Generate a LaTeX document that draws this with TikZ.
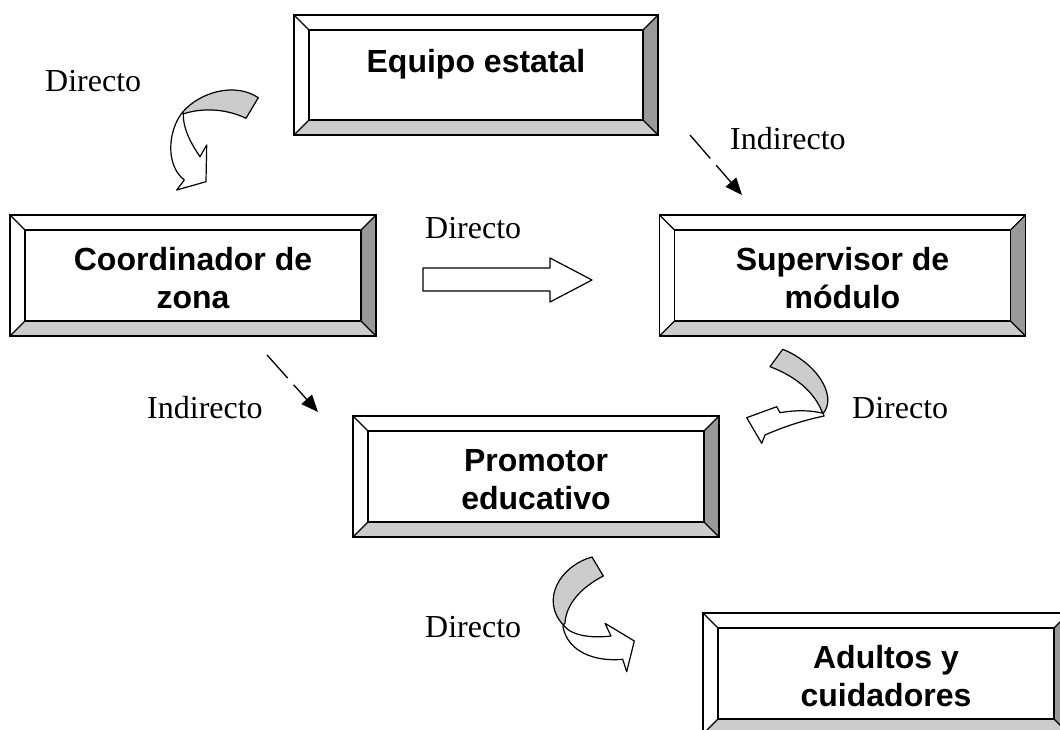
\documentclass[tikz,border=0pt]{standalone}
\usepackage{fontspec}
\setmainfont{Liberation Serif}
\newfontfamily\boxfont{Liberation Sans}
\usetikzlibrary{arrows.meta}
\definecolor{darkbevel}{gray}{0.6}
\definecolor{lightbevel}{gray}{0.8}
\tikzset{
  bevelbox/.style={draw, line width=1.5pt, fill=white, inner sep=0pt,
    minimum width=366pt, minimum height=121pt, align=center, text height=66pt, text depth=0pt,
    font=\boxfont\bfseries\fontsize{32}{38}\selectfont,
    path picture={
      \coordinate (bNE) at (path picture bounding box.north east);
      \coordinate (bNW) at (path picture bounding box.north west);
      \coordinate (bSE) at (path picture bounding box.south east);
      \coordinate (bSW) at (path picture bounding box.south west);
      \coordinate (iNE) at ([shift={(-15pt,-15pt)}]bNE);
      \coordinate (iNW) at ([shift={(15pt,-15pt)}]bNW);
      \coordinate (iSE) at ([shift={(-15pt,15pt)}]bSE);
      \coordinate (iSW) at ([shift={(15pt,15pt)}]bSW);
      \fill[darkbevel] (bNE) -- (bSE) -- (iSE) -- (iNE) -- cycle;
      \fill[lightbevel] (bSW) -- (bSE) -- (iSE) -- (iSW) -- cycle;
      \draw[line width=1.5pt] (iNE) -- (iNW) -- (iSW) -- (iSE) -- cycle;
      \draw[line width=1.2pt] (bNE) -- (iNE) (bNW) -- (iNW) (bSW) -- (iSW) (bSE) -- (iSE);
    }},
  ribbon/.style={draw=black, line width=1.2pt, line join=round},
  lbl/.style={anchor=base west, inner sep=0pt, font=\fontsize{32}{37}\selectfont},
  indirect/.style={line width=1.3pt, dash pattern=on 31pt off 9pt on 200pt,
    -{Triangle[length=17pt,width=14pt]}}
}
\begin{document}
\begin{tikzpicture}[x=1pt,y=-1pt]
\useasboundingbox (0,0) rectangle (1060,730);
\clip (0,0) rectangle (1060,730);

% boxes
\node[bevelbox, minimum width=364pt, minimum height=120pt, text height=23.4pt, text depth=29pt] (equipo) at (476,75) {Equipo estatal};
\node[bevelbox] (coord) at (193,275.5) {Coordinador de\\zona};
\node[bevelbox] (super) at (842.5,275.5) {Supervisor de\\módulo};
\node[bevelbox] (promo) at (536,476.5) {Promotor\\educativo};
\node[bevelbox] (adult) at (886,673.5) {Adultos y\\cuidadores};

% labels
\node[lbl] (l1) at (45,92) {Directo};
\node[lbl] (l2) at (730,150) {Indirecto};
\node[lbl] (l3) at (425,239) {Directo};
\node[lbl] (l4) at (147,418) {Indirecto};
\node[lbl] (l5) at (852,418) {Directo};
\node[lbl] (l6) at (425,637) {Directo};

% dashed indirect arrows
\coordinate (ia1) at (690,135);
\coordinate (ib1) at (742,195);
\coordinate (ia2) at (267,355);
\coordinate (ib2) at (318,412);
\draw[indirect] (ia1) -- (ib1);
\draw[indirect] (ia2) -- (ib2);

% straight block arrow
\draw[ribbon, fill=white] (423,268) -- (550,268) -- (550,258) -- (592,280)
  -- (550,302) -- (550,291) -- (423,291) -- cycle;

% curved arrow 1 (top left)
\filldraw[ribbon, fill=lightbevel] (258.3,97.7) .. controls (235,82) and (200,92) .. (182.7,112)
  -- (183.3,114) .. controls (200,108) and (225,108) .. (246,118.3) -- cycle;
\filldraw[ribbon, fill=white] (182.7,112) .. controls (168,130) and (165,165) .. (184.3,180)
  -- (176.7,190) -- (206,181.7) -- (206.7,145) -- (200,156.7)
  .. controls (190,142) and (183,128) .. (183.3,114) -- cycle;

% curved arrow 2 (right)
\filldraw[ribbon, fill=lightbevel] (782.7,349.3) .. controls (815,362) and (838,395) .. (823.3,413.3)
  -- (821.7,411) .. controls (815,395) and (800,378) .. (770,366.7) -- cycle;
\filldraw[ribbon, fill=white] (823.3,413.3) .. controls (810,410) and (795,410) .. (780,412.7)
  -- (776.7,406.7) -- (746.7,417.7) -- (761.7,443.3) -- (765,435)
  .. controls (790,424) and (810,419) .. (824,416) -- cycle;

% curved arrow 3 (bottom)
\filldraw[ribbon, fill=lightbevel] (592,557) .. controls (560,566) and (540,600) .. (563.3,625)
  -- (565,623) .. controls (566,605) and (580,588) .. (603.3,576) -- cycle;
\filldraw[ribbon, fill=white] (563.3,625) .. controls (572,637) and (595,638) .. (611,636)
  -- (605,623.3) -- (634.3,641) -- (626.7,671.7) -- (622.7,659.3)
  .. controls (595,662) and (568,652) .. (563,627) -- cycle;
\end{tikzpicture}
\end{document}
